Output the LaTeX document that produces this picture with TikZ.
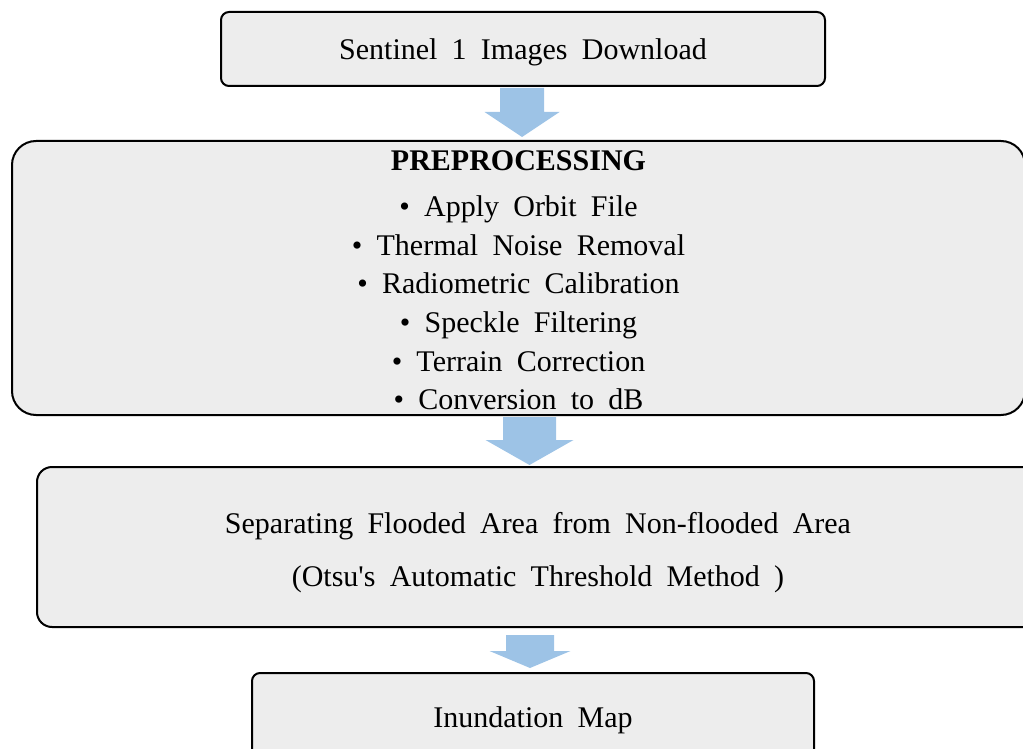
\documentclass[tikz,border=0pt]{standalone}
\usepackage{fontspec}
\setmainfont{Liberation Serif}[WordSpace=1.9]
\usetikzlibrary{calc}
\definecolor{boxfill}{HTML}{EDEDED}
\definecolor{arrowblue}{HTML}{9DC3E6}
\tikzset{
  flowbox/.style={draw=black, line width=2pt, fill=boxfill, align=center,
    inner sep=0pt, font=\fontsize{30}{38.7}\selectfont},
  flowarrow/.style={fill=arrowblue}
}
% #1 from node anchor, #2 to node anchor, #3 x centre, #4 shaft half width,
% #5 head half width, #6 head length, #7 gap at start, #8 gap at tip
\newcommand\blockarrow[8]{%
  \fill[flowarrow] let \p1=(#1), \p2=(#2) in
    ({(#3-#4)*1pt},{\y1-#7pt}) -- ({(#3+#4)*1pt},{\y1-#7pt})
    -- ({(#3+#4)*1pt},{\y2+#8pt+#6pt}) -- ({(#3+#5)*1pt},{\y2+#8pt+#6pt})
    -- ({#3*1pt},{\y2+#8pt})
    -- ({(#3-#5)*1pt},{\y2+#8pt+#6pt}) -- ({(#3-#4)*1pt},{\y2+#8pt+#6pt})
    -- cycle;
}
\newcommand\lift[1]{\rule{0pt}{#1pt}}
\begin{document}
\begin{tikzpicture}[x=1pt,y=-1pt]
  \useasboundingbox (0,0) rectangle (1023,749);
  \node[flowbox, rounded corners=8pt, minimum width=604pt, minimum height=74pt]
    (top) at (523,49) {\lift{27}Sentinel 1 Images Download};
  \node[flowbox, rounded corners=24pt, minimum width=1013pt, minimum height=274pt]
    (pre) at (518.5,278) {\lift{25}\textbf{PREPROCESSING}\\[7pt]
      • Apply Orbit File\\
      • Thermal Noise Removal\\
      • Radiometric Calibration\\
      • Speckle Filtering\\
      • Terrain Correction\\
      • Conversion to dB};
  \node[flowbox, rounded corners=15pt, minimum width=1002pt, minimum height=160pt,
    font=\fontsize{30}{53}\selectfont]
    (sep) at (538,547) {\lift{33}Separating Flooded Area from Non-flooded Area\\
      (Otsu\textquotesingle s Automatic Threshold Method )};
  \node[flowbox, rounded corners=8pt, minimum width=562pt, minimum height=86pt]
    (inun) at (533,716) {\lift{29}Inundation Map};
  \blockarrow{top.south}{pre.north}{522}{22}{37.5}{25}{1}{3}
  \blockarrow{pre.south}{sep.north}{529.5}{26.5}{44}{25}{1}{1}
  \blockarrow{sep.south}{inun.north}{530}{24}{40.5}{17}{7}{4}
\end{tikzpicture}
\end{document}
